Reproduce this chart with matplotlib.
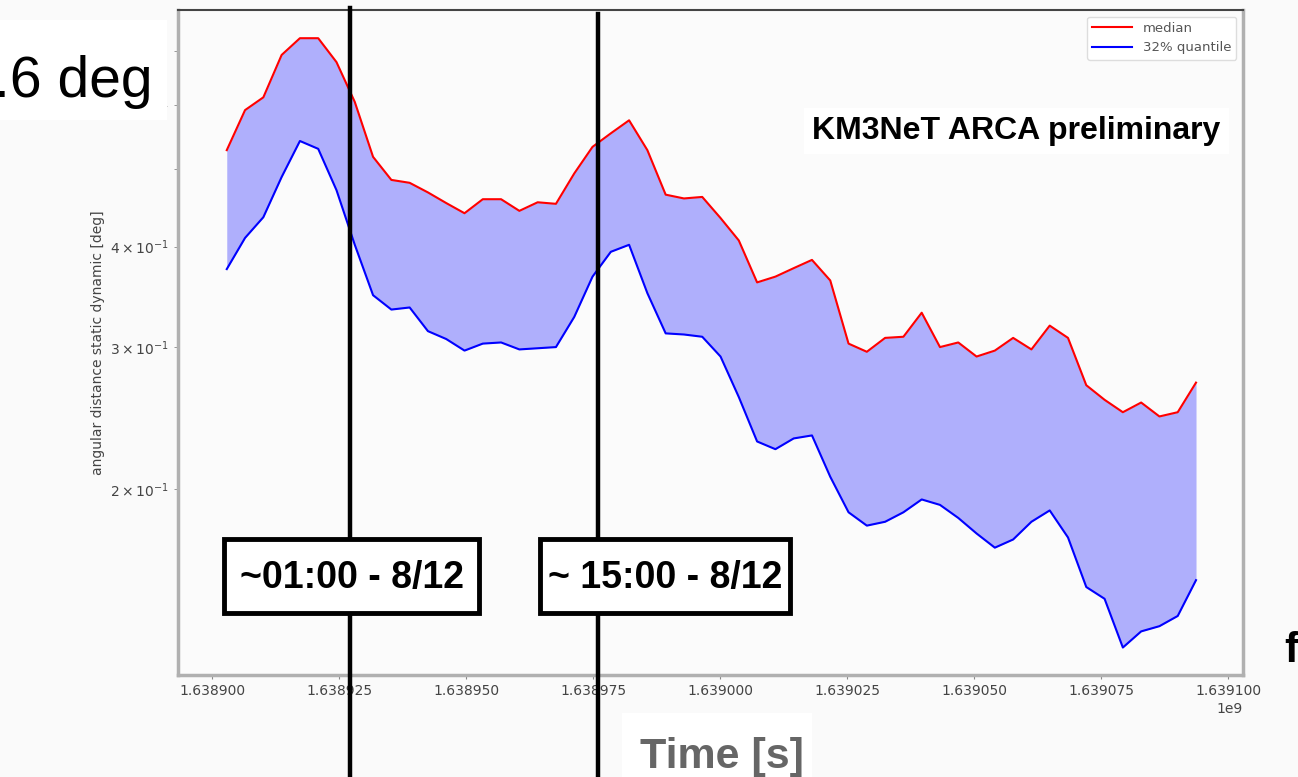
import numpy as np
import matplotlib
matplotlib.use("Agg")
import matplotlib.pyplot as plt
from matplotlib.patches import Rectangle

# ---- data -------------------------------------------------------------
t_start = 1638902900          # first hourly sample [s]
t_step = 3600                 # one sample per hour

median = [0.527, 0.591, 0.613, 0.692, 0.726, 0.726, 0.678, 0.605, 0.517, 0.484,
          0.480, 0.467, 0.453, 0.440, 0.458, 0.458, 0.443, 0.454, 0.452, 0.493,
          0.532, 0.553, 0.574, 0.527, 0.464, 0.459, 0.461, 0.434, 0.407, 0.361,
          0.367, 0.376, 0.385, 0.363, 0.303, 0.296, 0.308, 0.309, 0.331, 0.300,
          0.304, 0.292, 0.297, 0.308, 0.298, 0.319, 0.308, 0.269, 0.258, 0.249,
          0.256, 0.246, 0.249, 0.271]

q32 = [0.375, 0.410, 0.435, 0.488, 0.541, 0.529, 0.470, 0.402, 0.348, 0.334,
       0.336, 0.314, 0.307, 0.297, 0.303, 0.304, 0.298, 0.299, 0.300, 0.327,
       0.367, 0.394, 0.402, 0.350, 0.312, 0.311, 0.309, 0.292, 0.260, 0.229,
       0.224, 0.231, 0.233, 0.207, 0.187, 0.180, 0.182, 0.187, 0.194, 0.191,
       0.184, 0.176, 0.169, 0.173, 0.182, 0.188, 0.174, 0.151, 0.146, 0.127,
       0.133, 0.135, 0.139, 0.154]

time = t_start + t_step * np.arange(len(median))

x_ticks = [1638900000, 1638925000, 1638950000, 1638975000, 1639000000,
           1639025000, 1639050000, 1639075000, 1639100000]

event_times = [1638927200, 1638976000]
event_labels = ["~01:00 - 8/12", "~ 15:00 - 8/12"]

# ---- figure -----------------------------------------------------------
W, H = 1298, 777
fig = plt.figure(figsize=(W / 100, H / 100), dpi=100, facecolor="#fafafa")


def fx(px):
    return px / W


def fy(py):
    return 1 - py / H


ax = fig.add_axes([fx(178), fy(675), fx(1243) - fx(178), fy(10) - fy(675)])
ax.set_facecolor("#fbfbfb")

ax.fill_between(time, q32, median, color="blue", alpha=0.3, lw=0)
ax.plot(time, median, color="red", lw=1.5, label="median")
ax.plot(time, q32, color="blue", lw=1.5, label="32% quantile")

ax.set_yscale("log")
ax.set_xlim(1638893300, 1639102950)
ax.set_ylim(0.1174, 0.787)
ax.set_xticks(x_ticks)
ax.ticklabel_format(axis="x", useOffset=False)
ax.set_ylabel("angular distance static dynamic [deg]", fontsize=10, color="#444")

ax.tick_params(axis="both", which="both", labelsize=10, colors="#888",
               labelcolor="#444", length=3)
ax.xaxis.get_offset_text().set_color("#444")
ax.xaxis.get_offset_text().set_fontsize(10)

for side in ("left", "bottom", "right"):
    ax.spines[side].set_color("#b0b0b0")
    ax.spines[side].set_linewidth(2.5)
ax.spines["top"].set_color("#444")
ax.spines["top"].set_linewidth(1.5)

leg = ax.legend(loc="upper right", fontsize=9.5, handlelength=3,
                labelcolor="#555", framealpha=1)
leg.get_frame().set_edgecolor("#dddddd")

# event markers: vertical lines running across the whole figure
tops = [8, 14]
for t, top in zip(event_times, tops):
    ax.axvline(t, ymin=(675 - 777) / 665, ymax=(675 - top) / 665,
               color="black", lw=3.2, clip_on=False, zorder=5)

# labelled boxes for the two events
boxes = [(224, 479), (540, 790)]
for (x0, x1), label in zip(boxes, event_labels):
    fig.patches.append(Rectangle((fx(x0), fy(613)), fx(x1) - fx(x0),
                                 fy(539) - fy(613), transform=fig.transFigure,
                                 facecolor="white", edgecolor="black", lw=3.5,
                                 zorder=10))
    fig.text(fx((x0 + x1) / 2), fy(578), label, ha="center", va="center",
             fontsize=27, weight="bold", family="Liberation Sans", zorder=11)

# experiment tag
fig.text(fx(812), fy(131), "KM3NeT ARCA preliminary", ha="left", va="center",
         fontsize=23, weight="bold", family="Liberation Sans",
         bbox=dict(facecolor="white", edgecolor="none", pad=6), zorder=10)

# overlay with partial resolution text at the top left
fig.patches.append(Rectangle((0, fy(120)), fx(167), fy(20) - fy(120),
                             transform=fig.transFigure, facecolor="white",
                             edgecolor="none", zorder=10))
fig.text(fx(-6), fy(97), ".6 deg", ha="left", va="baseline", fontsize=41,
         family="Liberation Sans", zorder=11)

# axis title overlay at the bottom
fig.patches.append(Rectangle((fx(622), 0), fx(812) - fx(622), fy(713),
                             transform=fig.transFigure, facecolor="white",
                             edgecolor="none", zorder=10))
fig.text(fx(640), fy(768), "Time [s]", ha="left", va="baseline", fontsize=31,
         weight="bold", color="#666", family="Liberation Sans", zorder=11)

fig.text(fx(1284), fy(662), "f", ha="left", va="baseline", fontsize=30,
         weight="bold", family="Liberation Sans", zorder=11)

fig.savefig("out.png", dpi=100, facecolor=fig.get_facecolor())
